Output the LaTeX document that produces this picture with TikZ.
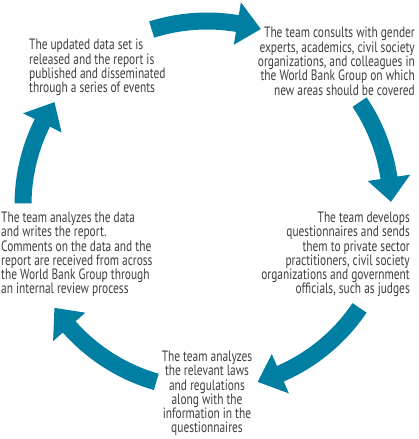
\documentclass[tikz,border=0pt]{standalone}
\usepackage{fontspec}
\newfontfamily\condfont[FakeStretch=0.76]{PT Sans}
\definecolor{cycleblue}{RGB}{0,127,163}
\definecolor{txtgray}{RGB}{62,62,62}
\begin{document}
\begin{tikzpicture}[x=1pt,y=1pt,
  txt/.style={inner sep=0pt, text=txtgray, font=\condfont\fontsize{15}{14.3}\selectfont},
  cyclearrow/.style={fill=cycleblue, draw=none}]
\useasboundingbox (0,0) rectangle (418,439);
\coordinate (C) at (207,234);
% curved block arrow along the circle: #1 tail angle, #2 tip angle
\newcommand{\cyclearr}[2]{%
  \pgfmathsetmacro{\hb}{#2+7.5}%
  \fill[cyclearrow]
    ([shift={(#1:192.5)}]C) arc[start angle=#1, end angle=\hb, radius=192.5]
    -- ([shift={(\hb:205.5)}]C)
    -- ([shift={(#2:184)}]C)
    -- ([shift={(\hb:162.5)}]C)
    -- ([shift={(\hb:175.5)}]C) arc[start angle=\hb, end angle=#1, radius=175.5]
    -- cycle;}
\cyclearr{107.5}{73}
\cyclearr{34}{1}
\cyclearr{-34}{-74}
\cyclearr{-106}{-146}
\cyclearr{179.5}{146}

\node[txt, anchor=base east] (consult) at (415,401)
  {\parbox[t]{200pt}{\raggedleft The team consults with gender\\experts, academics, civil society\\organizations, and colleagues in\\the World Bank Group on which\\new areas should be covered}};
\node[txt, anchor=base east] (develop) at (410,216.5)
  {\parbox[t]{200pt}{\raggedleft The team develops\\questionnaires and sends\\them to private sector\\practitioners, civil society\\organizations and government\\officials, such as judges}};
\node[txt, anchor=base] (laws) at (207,77.5)
  {\parbox[t]{200pt}{\centering The team analyzes\\the relevant laws\\and regulations\\along with the\\information in the\\questionnaires}};
\node[txt, anchor=base west] (report) at (1,216.5)
  {\parbox[t]{200pt}{\raggedright The team analyzes the data\\and writes the report.\\Comments on the data and the\\report are received from across\\the World Bank Group through\\an internal review process}};
\node[txt, anchor=base west] (release) at (29,389)
  {\parbox[t]{200pt}{\raggedright The updated data set is\\released and the report is\\published and disseminated\\through a series of events}};
\end{tikzpicture}
\end{document}
